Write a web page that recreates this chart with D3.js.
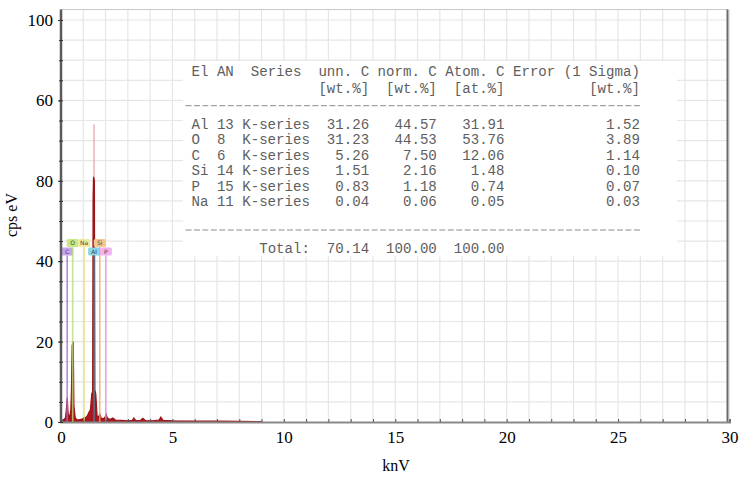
<!DOCTYPE html>
<html>
<head>
<meta charset="utf-8">
<script src="https://cdn.jsdelivr.net/npm/d3@7/dist/d3.min.js"></script>
<style>
  body { margin: 0; background: #fff; }
</style>
</head>
<body>
<div id="chart"></div>
<script>
// spectrum (keV, cps/eV)
var energy = [0.00, 0.10, 0.20, 0.24, 0.28, 0.32, 0.38, 0.44, 0.47, 0.50, 0.55, 0.58, 0.64, 0.72, 0.85, 0.98, 1.04, 1.10, 1.18, 1.26, 1.32, 1.38, 1.42, 1.44, 1.46, 1.50, 1.52, 1.56, 1.62, 1.68, 1.74, 1.80, 1.90, 1.98, 2.02, 2.08, 2.20, 2.32, 2.45, 2.70, 3.00, 3.20, 3.27, 3.35, 3.55, 3.67, 3.80, 4.10, 4.40, 4.48, 4.58, 5.00, 6.00, 7.00, 8.00, 9.00];
var counts = [0.0, 0.5, 1.0, 3.0, 6.0, 2.0, 1.0, 3.0, 8.0, 19.0, 20.0, 4.0, 1.0, 0.5, 0.6, 0.8, 1.2, 1.0, 1.5, 2.5, 3.0, 7.0, 7.5, 56.0, 61.0, 60.0, 8.0, 7.0, 1.5, 1.2, 2.0, 1.0, 0.8, 1.2, 2.0, 1.0, 0.6, 1.0, 0.5, 0.4, 0.3, 0.4, 1.0, 0.4, 0.3, 0.9, 0.3, 0.3, 0.5, 1.2, 0.4, 0.3, 0.25, 0.2, 0.15, 0.1];
// light pink trace on top of the Al peak
var alTraceEnergy = [1.470, 1.482, 1.494];
var alTraceCounts = [0, 74, 0];

// element line markers
var elements = ["C", "O", "Na", "Al", "Si", "P"];
var elementEnergy = [0.277, 0.525, 1.041, 1.486, 1.740, 2.013];
var elementRow = [1, 0, 0, 1, 0, 1];
var elementLine = ["#ad6ad2", "#b9e07a", "#e8e08c", "#4f8799", "#eeaa6c", "#e096e4"];
var elementBox = ["#cba4ee", "#c6ea86", "#f0ea9c", "#88d6e6", "#f6c68c", "#f0b2f0"];

// axes
var xTicks = [0, 5, 10, 15, 20, 25, 30];
var yTicks = [0, 20, 40, 60, 80, 100];
var yTickLabels = ["0", "20", "40", "80", "60", "100"];

// quantification table
var tableHead1 = ["El", "AN", "Series", "unn. C", "norm. C", "Atom. C", "Error (1 Sigma)"];
var tableHead2 = ["", "", "", "[wt.%]", "[wt.%]", "[at.%]", "[wt.%]"];
var tableEl = ["Al", "O", "C", "Si", "P", "Na"];
var tableAN = ["13", "8", "6", "14", "15", "11"];
var tableSeries = ["K-series", "K-series", "K-series", "K-series", "K-series", "K-series"];
var tableUnn = ["31.26", "31.23", "5.26", "1.51", "0.83", "0.04"];
var tableNorm = ["44.57", "44.53", "7.50", "2.16", "1.18", "0.06"];
var tableAtom = ["31.91", "53.76", "12.06", "1.48", "0.74", "0.05"];
var tableErr = ["1.52", "3.89", "1.14", "0.10", "0.07", "0.03"];
var tableTotal = ["70.14", "100.00", "100.00"];

var W = 741, H = 480;
var svg = d3.select("#chart").append("svg")
  .attr("width", W)
  .attr("height", H);

var x = d3.scaleLinear().domain([0, 30]).range([61, 729.5]);
var y = d3.scaleLinear().domain([0, 100]).range([422, 20]);
var yTop = y(102.6);

// grid
var grid = svg.append("g");
grid.selectAll("line.v")
  .data(d3.range(0, 31))
  .enter().append("line")
  .attr("x1", function (d) { return x(d); })
  .attr("x2", function (d) { return x(d); })
  .attr("y1", yTop).attr("y2", y(0))
  .attr("stroke", "#e6e6e6").attr("stroke-width", 1.2);
grid.selectAll("line.h")
  .data(d3.range(5, 101, 5))
  .enter().append("line")
  .attr("x1", x(0)).attr("x2", x(30) - 2)
  .attr("y1", function (d) { return y(d); })
  .attr("y2", function (d) { return y(d); })
  .attr("stroke", "#e6e6e6").attr("stroke-width", 1.2);

// table background covers the grid
var cw = 8.46, tx = 191.5;
svg.append("rect")
  .attr("x", 183).attr("y", 61)
  .attr("width", 494).attr("height", 195)
  .attr("fill", "#fff");

// spectrum
var spec = energy.map(function (e, i) { return [e, counts[i]]; });
var alTrace = alTraceEnergy.map(function (e, i) { return [e, alTraceCounts[i]]; });

svg.append("path")
  .datum(alTrace)
  .attr("fill", "#f4c4c8")
  .attr("stroke", "#f0b0b8")
  .attr("stroke-width", 1)
  .attr("d", d3.line().x(function (d) { return x(d[0]); }).y(function (d) { return y(d[1]); }));

svg.append("path")
  .datum(spec)
  .attr("fill", "#a8161e")
  .attr("d", d3.area()
    .x(function (d) { return x(d[0]); })
    .y0(y(0))
    .y1(function (d) { return y(d[1]); }));
svg.append("path")
  .datum(spec)
  .attr("fill", "none")
  .attr("stroke", "#9a1418")
  .attr("stroke-width", 1.2)
  .attr("d", d3.line().x(function (d) { return x(d[0]); }).y(function (d) { return y(d[1]); }));

// element markers
var rowTop = [239, 247.5];
var mk = svg.append("g").selectAll("g")
  .data(elements)
  .enter().append("g");
mk.append("line")
  .attr("x1", function (d, i) { return x(elementEnergy[i]); })
  .attr("x2", function (d, i) { return x(elementEnergy[i]); })
  .attr("y1", function (d, i) { return rowTop[elementRow[i]] + 8; })
  .attr("y2", y(0))
  .attr("stroke", function (d, i) { return elementLine[i]; })
  .attr("stroke-width", 1.6)
  .attr("opacity", 0.8);
mk.append("rect")
  .attr("x", function (d, i) { return x(elementEnergy[i]) - 6; })
  .attr("y", function (d, i) { return rowTop[elementRow[i]]; })
  .attr("width", 12).attr("height", 8)
  .attr("rx", 1.5)
  .attr("fill", function (d, i) { return elementBox[i]; });
mk.append("text")
  .attr("x", function (d, i) { return x(elementEnergy[i]); })
  .attr("y", function (d, i) { return rowTop[elementRow[i]] + 6.3; })
  .attr("text-anchor", "middle")
  .attr("font-family", "DejaVu Sans, sans-serif")
  .attr("font-size", "6px")
  .attr("fill", "#444")
  .text(function (d) { return d; });

// frame
svg.append("line").attr("x1", x(0)).attr("x2", x(30) - 2).attr("y1", yTop).attr("y2", yTop)
  .attr("stroke", "#c8c8c8").attr("stroke-width", 1);
svg.append("line").attr("x1", x(30) - 2).attr("x2", x(30) - 2).attr("y1", yTop).attr("y2", y(0))
  .attr("stroke", "#6a6a6a").attr("stroke-width", 2);

// x axis
var xMinor = svg.append("g")
  .attr("transform", "translate(0," + y(0) + ")")
  .call(d3.axisBottom(x).tickValues(d3.range(0, 31)).tickSize(-3).tickFormat(""));
xMinor.select(".domain").attr("stroke", "#8a8a8a").attr("stroke-width", 2);
xMinor.selectAll(".tick line").attr("stroke", "#555");

var xAxis = svg.append("g")
  .attr("transform", "translate(0," + y(0) + ")")
  .call(d3.axisBottom(x).tickValues(xTicks).tickSize(0).tickPadding(9).tickFormat(d3.format("d")));
xAxis.select(".domain").remove();
xAxis.selectAll("text")
  .attr("font-family", "Liberation Serif, serif")
  .attr("font-size", "17px")
  .attr("fill", "#000");

// y axis
var yMinor = svg.append("g")
  .attr("transform", "translate(" + x(0) + ",0)")
  .call(d3.axisLeft(y).tickValues(d3.range(0, 101, 5)).tickSize(3).tickFormat(""));
yMinor.select(".domain").attr("d", "M0," + yTop + "V" + y(0))
  .attr("stroke", "#5a5a5a").attr("stroke-width", 2.5);
yMinor.selectAll(".tick line").attr("stroke", "#333").attr("x2", 2).attr("x1", -2);

var yAxis = svg.append("g")
  .attr("transform", "translate(" + x(0) + ",0)")
  .call(d3.axisLeft(y).tickValues(yTicks).tickSize(3).tickPadding(5)
    .tickFormat(function (d, i) { return yTickLabels[i]; }));
yAxis.select(".domain").remove();
yAxis.selectAll(".tick line").attr("stroke", "#333");
yAxis.selectAll("text")
  .attr("font-family", "Liberation Serif, serif")
  .attr("font-size", "17px")
  .attr("fill", "#000");

// axis titles
svg.append("text")
  .attr("transform", "translate(17,215) rotate(-90)")
  .attr("text-anchor", "middle")
  .attr("font-family", "Liberation Serif, serif")
  .attr("font-size", "16px")
  .text("cps eV");
svg.append("text")
  .attr("x", 396).attr("y", 471)
  .attr("text-anchor", "middle")
  .attr("font-family", "Liberation Serif, serif")
  .attr("font-size", "16px")
  .text("knV");

// table text, laid out on a monospace character grid
var tbl = svg.append("g")
  .attr("font-family", "Liberation Mono, monospace")
  .attr("font-size", "14.1px")
  .attr("fill", "#5e5e5e");

function cell(text, col, yy, anchor) {
  tbl.append("text")
    .attr("x", tx + col * cw)
    .attr("y", yy)
    .attr("dy", "0.35em")
    .attr("text-anchor", anchor)
    .text(text);
}
var colStart = [0, 3, 7];
var colEnd = [21, 29, 37, 53];
tableHead1.forEach(function (t, i) {
  if (i < 3) cell(t, colStart[i], 70.7, "start");
  else cell(t, colEnd[i - 3], 70.7, "end");
});
tableHead2.forEach(function (t, i) {
  if (i >= 3) cell(t, colEnd[i - 3], 88.3, "end");
});
var rowY = [124, 139.5, 155, 170.5, 186, 201.5];
tableEl.forEach(function (t, i) {
  cell(t, 0, rowY[i], "start");
  cell(tableAN[i], 3, rowY[i], "start");
  cell(tableSeries[i], 6, rowY[i], "start");
  cell(tableUnn[i], colEnd[0], rowY[i], "end");
  cell(tableNorm[i], colEnd[1], rowY[i], "end");
  cell(tableAtom[i], colEnd[2], rowY[i], "end");
  cell(tableErr[i], colEnd[3], rowY[i], "end");
});
cell("Total:", 8, 247.7, "start");
tableTotal.forEach(function (t, i) {
  cell(t, colEnd[i], 247.7, "end");
});
[105.7, 230].forEach(function (yy) {
  tbl.append("line")
    .attr("x1", tx - 6).attr("x2", tx + 53 * cw)
    .attr("y1", yy).attr("y2", yy)
    .attr("stroke", "#8a8a8a")
    .attr("stroke-width", 1)
    .attr("stroke-dasharray", "6,2.46");
});
</script>
</body>
</html>
